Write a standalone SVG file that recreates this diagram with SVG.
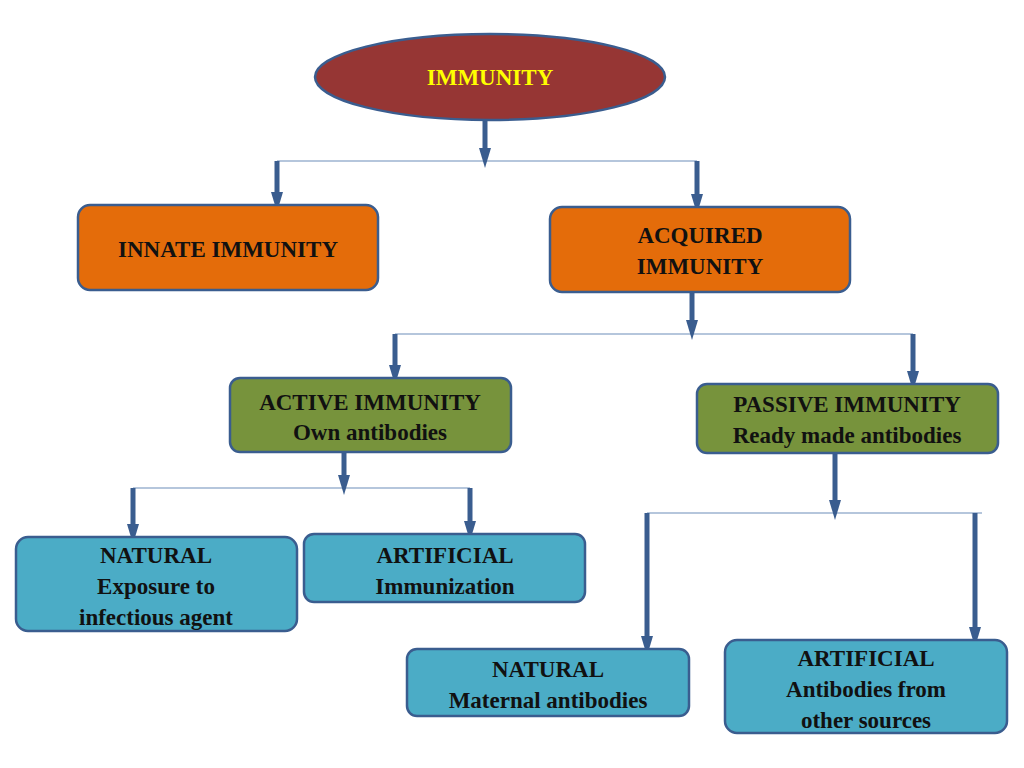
<svg xmlns="http://www.w3.org/2000/svg" width="1024" height="768" viewBox="0 0 1024 768">
<style>
.b{stroke:#3a5d8f;stroke-width:2.5}
.t{font-family:"Liberation Serif",serif;font-weight:bold;font-size:23px;fill:#111;text-anchor:middle}
.v{stroke:#3a5d8f;stroke-width:5;marker-end:url(#a)}
.h{stroke:#9db3d0;stroke-width:1.5}
</style>
<defs><marker id="a" markerWidth="4" markerHeight="4" refX="2" refY="2" orient="auto" markerUnits="strokeWidth"><path d="M0,0.8L4,2L0,3.2Z" fill="#3a5d8f"/></marker></defs>
<rect width="1024" height="768" fill="#fff"/>
<g id="connectors">
<line class="h" x1="277" y1="161" x2="697" y2="161"/>
<line class="v" x1="485" y1="121" x2="485" y2="158"/>
<line class="v" x1="277" y1="161" x2="277" y2="202"/>
<line class="v" x1="697" y1="161" x2="697" y2="204"/>
<line class="h" x1="395" y1="334" x2="913" y2="334"/>
<line class="v" x1="692" y1="292" x2="692" y2="330"/>
<line class="v" x1="395" y1="334" x2="395" y2="375"/>
<line class="v" x1="913" y1="334" x2="913" y2="381"/>
<line class="h" x1="133" y1="488" x2="470" y2="488"/>
<line class="v" x1="344" y1="452" x2="344" y2="485"/>
<line class="v" x1="133" y1="488" x2="133" y2="534"/>
<line class="v" x1="470" y1="488" x2="470" y2="531"/>
<line class="h" x1="647" y1="513" x2="982" y2="513"/>
<line class="v" x1="835" y1="454" x2="835" y2="510"/>
<line class="v" x1="647" y1="513" x2="647" y2="646"/>
<line class="v" x1="975" y1="513" x2="975" y2="637"/>
</g>
<g id="immunity"><ellipse cx="490" cy="77" rx="175" ry="43" fill="#963634" class="b"/><text class="t" x="490" y="85" style="fill:#ffff00">IMMUNITY</text></g>
<g id="innate"><rect x="78" y="205" width="300" height="85" rx="12" fill="#e46c0a" class="b"/><text class="t" x="228" y="257">INNATE IMMUNITY</text></g>
<g id="acquired"><rect x="550" y="207" width="300" height="85" rx="12" fill="#e46c0a" class="b"/><text class="t" x="700" y="243">ACQUIRED</text><text class="t" x="700" y="274">IMMUNITY</text></g>
<g id="active"><rect x="230" y="378" width="281" height="74" rx="10" fill="#77933c" class="b"/><text class="t" x="370" y="410">ACTIVE IMMUNITY</text><text class="t" x="370" y="440">Own antibodies</text></g>
<g id="passive"><rect x="697" y="384" width="301" height="69" rx="10" fill="#77933c" class="b"/><text class="t" x="847" y="412">PASSIVE IMMUNITY</text><text class="t" x="847" y="443">Ready made antibodies</text></g>
<g id="natural1"><rect x="16" y="537" width="281" height="94" rx="12" fill="#4bacc6" class="b"/><text class="t" x="156" y="563">NATURAL</text><text class="t" x="156" y="594">Exposure to</text><text class="t" x="156" y="625">infectious agent</text></g>
<g id="artificial1"><rect x="304" y="534" width="281" height="68" rx="10" fill="#4bacc6" class="b"/><text class="t" x="445" y="563">ARTIFICIAL</text><text class="t" x="445" y="594">Immunization</text></g>
<g id="natural2"><rect x="407" y="649" width="282" height="67" rx="10" fill="#4bacc6" class="b"/><text class="t" x="548" y="677">NATURAL</text><text class="t" x="548" y="708">Maternal antibodies</text></g>
<g id="artificial2"><rect x="725" y="640" width="282" height="93" rx="12" fill="#4bacc6" class="b"/><text class="t" x="866" y="666">ARTIFICIAL</text><text class="t" x="866" y="697">Antibodies from</text><text class="t" x="866" y="728">other sources</text></g>
</svg>
